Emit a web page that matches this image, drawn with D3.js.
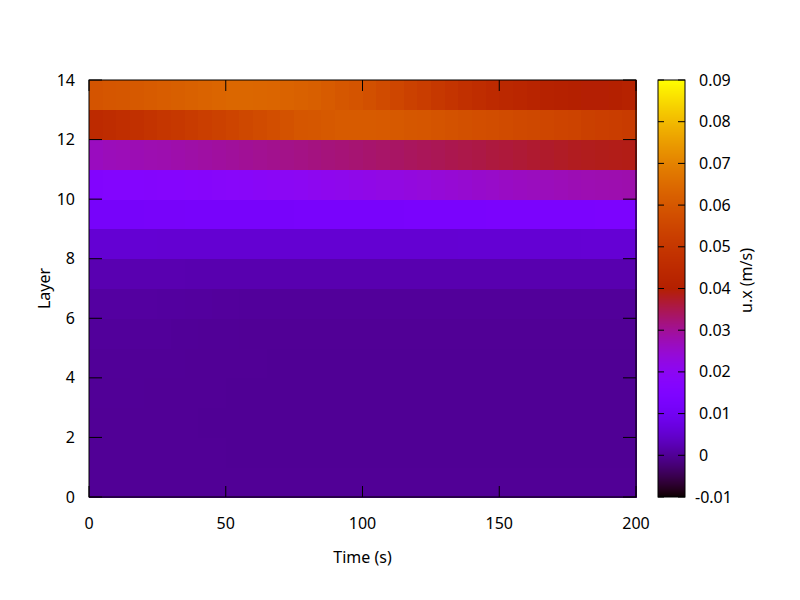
<!DOCTYPE html>
<html>
<head>
  <meta charset="utf-8">
  <title>u.x heatmap</title>
  <script src="https://cdn.jsdelivr.net/npm/d3@7"></script>
  <style>
    body { margin: 0; background: #fff; }
    text { font-family: "Noto Sans", sans-serif; font-size: 16px; fill: #000; }
  </style>
</head>
<body>
  <svg width="800" height="600" id="chart"></svg>
  <script>
    // time bins (start of each 5 s column) and layers
    const timeStart = d3.range(0, 200, 5);
    const timeStep = 5;
    const xTicks = [0, 50, 100, 150, 200];
    const yTicks = [0, 2, 4, 6, 8, 10, 12, 14];
    const cbTicks = [-0.01, 0, 0.01, 0.02, 0.03, 0.04, 0.05, 0.06, 0.07, 0.08, 0.09];

    // u.x (m/s) per layer, one value per time column
    const layer0 = [0.0000,0.0000,0.0000,0.0000,0.0000,0.0000,0.0000,0.0000,0.0000,0.0000,0.0000,0.0000,0.0000,0.0000,0.0000,0.0000,0.0000,0.0000,0.0000,0.0000,0.0000,0.0000,0.0000,0.0000,0.0000,0.0000,0.0000,0.0000,0.0000,0.0000,0.0000,0.0000,0.0000,0.0000,0.0000,0.0000,0.0000,0.0000,0.0000,0.0000];
    const layer1 = [0.0000,0.0000,0.0000,0.0000,0.0000,0.0000,0.0000,0.0000,0.0000,0.0000,-0.0001,-0.0001,-0.0001,-0.0001,-0.0001,-0.0001,-0.0001,-0.0001,-0.0001,-0.0001,-0.0001,-0.0001,-0.0001,-0.0001,-0.0001,-0.0001,-0.0001,-0.0001,-0.0001,-0.0001,-0.0001,-0.0001,-0.0001,-0.0001,-0.0001,-0.0001,-0.0001,-0.0001,-0.0001,-0.0001];
    const layer2 = [0.0000,0.0000,0.0000,0.0000,0.0000,0.0000,0.0000,0.0000,-0.0001,-0.0001,-0.0001,-0.0001,-0.0001,-0.0001,-0.0001,-0.0001,-0.0001,-0.0001,-0.0001,-0.0001,-0.0001,-0.0001,-0.0001,-0.0001,-0.0001,-0.0001,-0.0001,-0.0001,-0.0001,-0.0001,-0.0001,-0.0001,-0.0001,-0.0001,-0.0001,-0.0001,-0.0001,-0.0001,-0.0001,-0.0001];
    const layer3 = [0.0001,0.0001,0.0001,0.0001,0.0000,0.0000,0.0000,0.0000,0.0000,0.0000,-0.0001,-0.0001,-0.0001,-0.0001,-0.0001,-0.0001,-0.0001,-0.0001,-0.0001,-0.0001,-0.0001,-0.0001,-0.0001,-0.0001,-0.0001,-0.0001,-0.0001,-0.0001,-0.0001,-0.0001,-0.0001,-0.0001,-0.0001,-0.0001,-0.0001,-0.0001,-0.0001,-0.0001,-0.0001,-0.0001];
    const layer4 = [0.0002,0.0002,0.0002,0.0001,0.0001,0.0001,0.0001,0.0000,0.0000,0.0000,0.0000,0.0000,0.0000,-0.0001,-0.0001,-0.0001,-0.0001,-0.0001,-0.0001,-0.0001,-0.0001,-0.0001,-0.0001,-0.0001,-0.0001,-0.0001,-0.0001,-0.0001,-0.0001,-0.0001,-0.0001,-0.0001,-0.0001,-0.0001,-0.0001,-0.0001,-0.0001,-0.0001,-0.0001,-0.0001];
    const layer5 = [0.0004,0.0004,0.0004,0.0003,0.0003,0.0003,0.0002,0.0002,0.0001,0.0001,0.0001,0.0000,0.0000,0.0000,0.0000,0.0000,0.0000,0.0000,0.0000,0.0000,0.0000,0.0000,0.0000,0.0000,0.0000,0.0000,0.0000,0.0000,0.0000,0.0000,0.0000,0.0000,0.0000,0.0000,0.0000,0.0000,0.0000,0.0000,0.0000,0.0000];
    const layer6 = [0.0009,0.0009,0.0009,0.0008,0.0008,0.0007,0.0007,0.0006,0.0006,0.0005,0.0005,0.0004,0.0004,0.0004,0.0003,0.0003,0.0003,0.0003,0.0003,0.0003,0.0003,0.0003,0.0003,0.0003,0.0003,0.0003,0.0003,0.0003,0.0003,0.0003,0.0003,0.0003,0.0003,0.0003,0.0003,0.0003,0.0003,0.0003,0.0003,0.0003];
    const layer7 = [0.0022,0.0022,0.0022,0.0021,0.0021,0.0021,0.0021,0.0020,0.0020,0.0020,0.0020,0.0020,0.0020,0.0020,0.0020,0.0020,0.0020,0.0020,0.0020,0.0020,0.0020,0.0020,0.0020,0.0020,0.0020,0.0020,0.0020,0.0020,0.0020,0.0020,0.0020,0.0020,0.0020,0.0020,0.0020,0.0020,0.0020,0.0020,0.0020,0.0020];
    const layer8 = [0.0055,0.0055,0.0055,0.0055,0.0055,0.0054,0.0054,0.0054,0.0054,0.0054,0.0054,0.0054,0.0054,0.0054,0.0054,0.0054,0.0054,0.0054,0.0054,0.0054,0.0054,0.0054,0.0054,0.0054,0.0054,0.0054,0.0054,0.0055,0.0055,0.0055,0.0055,0.0055,0.0055,0.0055,0.0055,0.0055,0.0056,0.0056,0.0056,0.0056];
    const layer9 = [0.0118,0.0118,0.0119,0.0119,0.0120,0.0120,0.0120,0.0121,0.0121,0.0121,0.0122,0.0122,0.0122,0.0123,0.0123,0.0124,0.0124,0.0125,0.0125,0.0126,0.0126,0.0127,0.0127,0.0128,0.0128,0.0129,0.0129,0.0130,0.0130,0.0131,0.0131,0.0132,0.0132,0.0133,0.0133,0.0134,0.0134,0.0135,0.0135,0.0135];
    const layer10 = [0.0160,0.0162,0.0164,0.0166,0.0168,0.0170,0.0172,0.0175,0.0178,0.0180,0.0183,0.0186,0.0190,0.0193,0.0197,0.0200,0.0204,0.0208,0.0212,0.0216,0.0220,0.0224,0.0228,0.0232,0.0236,0.0240,0.0244,0.0248,0.0252,0.0256,0.0260,0.0263,0.0266,0.0269,0.0272,0.0275,0.0277,0.0279,0.0280,0.0281];
    const layer11 = [0.0265,0.0270,0.0272,0.0275,0.0278,0.0280,0.0283,0.0286,0.0290,0.0293,0.0296,0.0300,0.0303,0.0306,0.0310,0.0313,0.0316,0.0320,0.0323,0.0326,0.0330,0.0333,0.0336,0.0340,0.0343,0.0346,0.0350,0.0353,0.0356,0.0360,0.0363,0.0366,0.0370,0.0373,0.0376,0.0380,0.0382,0.0384,0.0385,0.0386];
    const layer12 = [0.0450,0.0455,0.0465,0.0475,0.0485,0.0495,0.0505,0.0515,0.0525,0.0535,0.0545,0.0555,0.0565,0.0575,0.0585,0.0595,0.0600,0.0605,0.0610,0.0610,0.0610,0.0608,0.0605,0.0600,0.0595,0.0590,0.0585,0.0580,0.0575,0.0570,0.0565,0.0560,0.0555,0.0550,0.0545,0.0540,0.0530,0.0525,0.0520,0.0515];
    const layer13 = [0.0590,0.0595,0.0600,0.0605,0.0610,0.0615,0.0620,0.0625,0.0630,0.0635,0.0640,0.0640,0.0638,0.0635,0.0630,0.0625,0.0620,0.0610,0.0600,0.0590,0.0580,0.0565,0.0550,0.0535,0.0520,0.0505,0.0490,0.0475,0.0460,0.0450,0.0440,0.0430,0.0420,0.0410,0.0405,0.0400,0.0398,0.0398,0.0400,0.0410];

    const layers = [layer0, layer1, layer2, layer3, layer4, layer5, layer6,
      layer7, layer8, layer9, layer10, layer11, layer12, layer13];

    const svg = d3.select('#chart');
    const plot = { left: 89, right: 636, top: 80, bottom: 497 };
    const cbar = { left: 658, right: 685 };

    const xScale = d3.scaleLinear().domain([0, 200]).range([plot.left, plot.right]);
    const yScale = d3.scaleLinear().domain([0, 14]).range([plot.bottom, plot.top]);
    const cScale = d3.scaleLinear().domain([-0.01, 0.09]).range([plot.bottom, plot.top]);

    // gnuplot default palette (rgbformulae 7,5,15)
    function palette(t) {
      t = Math.max(0, Math.min(1, t));
      const r = Math.sqrt(t), g = t * t * t, b = Math.max(0, Math.sin(2 * Math.PI * t));
      return d3.rgb(r * 255, g * 255, b * 255).toString();
    }
    const color = d3.scaleSequential(palette).domain([-0.01, 0.09]);

    // cells
    const cells = [];
    layers.forEach((vals, li) => {
      vals.forEach((v, ti) => cells.push({ layer: li, t: timeStart[ti], v: v }));
    });

    svg.append('g')
      .selectAll('rect')
      .data(cells)
      .join('rect')
      .attr('x', d => xScale(d.t))
      .attr('y', d => yScale(d.layer + 1))
      .attr('width', d => xScale(d.t + timeStep) - xScale(d.t) + 0.5)
      .attr('height', d => yScale(d.layer) - yScale(d.layer + 1) + 0.5)
      .attr('fill', d => color(d.v))
      .attr('shape-rendering', 'crispEdges');

    // axes: ticks inward on all four sides
    const axes = svg.append('g').attr('stroke', '#000').attr('stroke-width', 1);
    xTicks.forEach(t => {
      axes.append('line').attr('x1', xScale(t)).attr('x2', xScale(t))
        .attr('y1', plot.bottom).attr('y2', plot.bottom - 11);
      axes.append('line').attr('x1', xScale(t)).attr('x2', xScale(t))
        .attr('y1', plot.top).attr('y2', plot.top + 11);
    });
    yTicks.forEach(t => {
      axes.append('line').attr('x1', plot.left).attr('x2', plot.left + 13)
        .attr('y1', yScale(t)).attr('y2', yScale(t));
      axes.append('line').attr('x1', plot.right).attr('x2', plot.right - 13)
        .attr('y1', yScale(t)).attr('y2', yScale(t));
    });
    axes.append('rect')
      .attr('x', plot.left).attr('y', plot.top)
      .attr('width', plot.right - plot.left).attr('height', plot.bottom - plot.top)
      .attr('fill', 'none');

    svg.append('g').selectAll('text')
      .data(xTicks)
      .join('text')
      .attr('x', d => xScale(d))
      .attr('y', 529)
      .attr('text-anchor', 'middle')
      .text(d => d);

    svg.append('g').selectAll('text')
      .data(yTicks)
      .join('text')
      .attr('x', 75)
      .attr('y', d => yScale(d) + 5.5)
      .attr('text-anchor', 'end')
      .text(d => d);

    svg.append('text')
      .attr('x', xScale(100))
      .attr('y', 563)
      .attr('text-anchor', 'middle')
      .text('Time (s)');

    svg.append('text')
      .attr('transform', `translate(50, ${(plot.top + plot.bottom) / 2}) rotate(-90)`)
      .attr('text-anchor', 'middle')
      .text('Layer');

    // colour box
    const cbSteps = d3.range(plot.top, plot.bottom, 1);
    svg.append('g').selectAll('rect')
      .data(cbSteps)
      .join('rect')
      .attr('x', cbar.left)
      .attr('y', d => d)
      .attr('width', cbar.right - cbar.left)
      .attr('height', 1.2)
      .attr('fill', d => color(cScale.invert(d + 0.5)))
      .attr('shape-rendering', 'crispEdges');

    const cbAxis = svg.append('g').attr('stroke', '#000').attr('stroke-width', 1);
    cbTicks.forEach(t => {
      cbAxis.append('line').attr('x1', cbar.left).attr('x2', cbar.left + 6)
        .attr('y1', cScale(t)).attr('y2', cScale(t));
      cbAxis.append('line').attr('x1', cbar.right).attr('x2', cbar.right - 7)
        .attr('y1', cScale(t)).attr('y2', cScale(t));
    });
    cbAxis.append('rect')
      .attr('x', cbar.left).attr('y', plot.top)
      .attr('width', cbar.right - cbar.left).attr('height', plot.bottom - plot.top)
      .attr('fill', 'none');

    svg.append('g').selectAll('text')
      .data(cbTicks)
      .join('text')
      .attr('x', d => d < 0 ? 695 : 699)
      .attr('y', d => cScale(d) + 5.5)
      .text(d => d === 0 ? '0' : d3.format('.2f')(d).replace('\u2212', '-'));

    svg.append('text')
      .attr('transform', `translate(752, ${(plot.top + plot.bottom) / 2 - 8}) rotate(-90)`)
      .attr('text-anchor', 'middle')
      .text('u.x (m/s)');
  </script>
</body>
</html>
